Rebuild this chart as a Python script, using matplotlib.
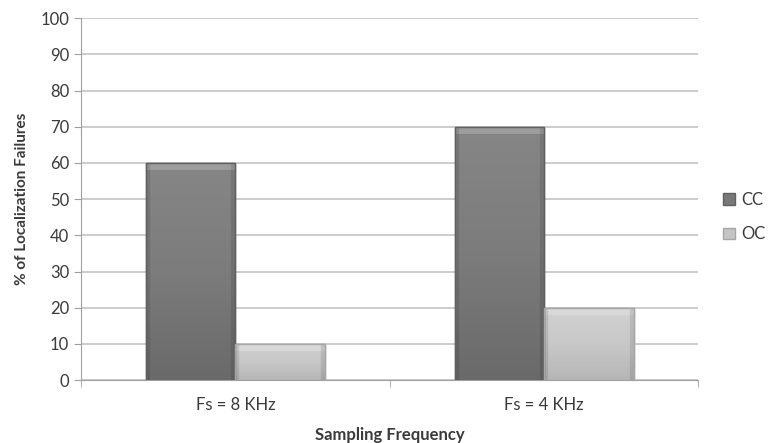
import matplotlib.pyplot as plt
import numpy as np
from matplotlib.colors import LinearSegmentedColormap

plt.rcParams['font.family'] = ['Lato', 'DejaVu Sans']

categories = ["Fs = 8 KHz", "Fs = 4 KHz"]
series_names = ["CC", "OC"]
cc_values = [60, 70]
oc_values = [10, 20]
y_ticks = [0, 10, 20, 30, 40, 50, 60, 70, 80, 90, 100]

txt = '#3a3a3a'
fig = plt.figure(figsize=(7.68, 4.43), dpi=100)
ax = fig.add_axes([0.1055, 0.142, 0.804, 0.817])

x = np.arange(len(categories))
w = 0.29
colors = ['#787878', '#c4c4c4']
edges = ['#606060', '#a6a6a6']
grads = [['#6a6a6a', '#7c7c7c', '#868686'], ['#b6b6b6', '#c8c8c8', '#d2d2d2']]

for i, (name, vals) in enumerate(zip(series_names, [cc_values, oc_values])):
    bars = ax.bar(x + (i - 0.5) * w, vals, width=w, color=colors[i], edgecolor=edges[i],
                  linewidth=1, label=name, zorder=3)
    cmap = LinearSegmentedColormap.from_list('g%d' % i, grads[i])
    for b in bars:
        x0, y0 = b.get_x(), b.get_y()
        x1, y1 = x0 + b.get_width(), y0 + b.get_height()
        grad = np.linspace(0, 1, 100).reshape(-1, 1)
        im = ax.imshow(grad, cmap=cmap, origin='lower', extent=(x0, x1, y0, y1),
                       aspect='auto', zorder=3.5)
        im.set_clip_path(b)
        # bevel: light top, darker sides (clipped to the bar)
        for xs, ys, c, a, lw in [([x0, x1], [y1, y1], 'white', 0.2, 10),
                                 ([x0, x0], [y0, y1], 'black', 0.1, 6),
                                 ([x1, x1], [y0, y1], 'black', 0.1, 6)]:
            ln, = ax.plot(xs, ys, color=c, alpha=a, lw=lw, zorder=4, solid_capstyle='butt')
            ln.set_clip_path(b)
        ax.add_patch(plt.Rectangle((x0, y0), x1 - x0, y1 - y0, fill=False,
                                   edgecolor=edges[i], lw=1, zorder=5))

ax.set_xlim(-0.5, len(categories) - 0.5)
ax.set_ylim(0, 100)
ax.set_yticks(y_ticks)
ax.tick_params(axis='y', labelsize=12, length=5, color='#a0a0a0', labelcolor=txt)
ax.set_xticks(x)
ax.set_xticklabels(categories)
ax.tick_params(axis='x', labelsize=12, length=0, pad=12, labelcolor=txt)
ax.set_xticks([-0.5, 0.5, 1.5], minor=True)
ax.tick_params(axis='x', which='minor', length=5, color='#a0a0a0')

ax.grid(axis='y', color='#c4c4c4', linewidth=1.2, zorder=0)
for s in ['top', 'right']:
    ax.spines[s].set_visible(False)
ax.spines['left'].set_color('#a0a0a0')
ax.spines['bottom'].set_color('#a0a0a0')

ax.set_ylabel("% of Localization Failures", fontsize=11, fontweight='bold', color=txt, labelpad=8)
ax.set_xlabel("Sampling Frequency", fontsize=12, fontweight='bold', color=txt, labelpad=10)

handles, labels = ax.get_legend_handles_labels()
leg = ax.legend(handles, labels, loc='center left', bbox_to_anchor=(1.021, 0.45), frameon=False,
                fontsize=12, handlelength=0.7, handleheight=0.7, labelspacing=1.1,
                handletextpad=0.4, labelcolor=txt, borderaxespad=0.3)

fig.savefig("out.png", dpi=100)
